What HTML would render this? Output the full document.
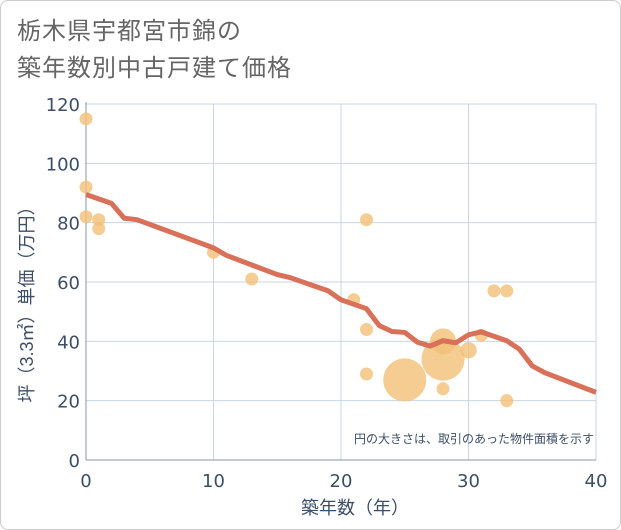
<!DOCTYPE html>
<html><head><meta charset="utf-8"><style>
body{margin:0;background:#fff;font-family:"Liberation Sans","Noto Sans CJK JP",sans-serif;}
#card{position:absolute;left:0;top:0;width:619px;height:528px;border:1px solid #ccc;border-radius:8px;}
#title{position:absolute;left:17px;top:13px;font-size:24px;letter-spacing:1px;line-height:37px;color:#666;}
</style></head><body>
<div id="card"></div>
<div id="title">栃木県宇都宮市錦の<br>築年数別中古戸建て価格</div>
<svg id="chart" width="621" height="530" style="position:absolute;left:0;top:0" font-family="Liberation Sans, Noto Sans CJK JP, sans-serif"></svg>
<script>
const xTicks=[0,10,20,30,40];
const yTicks=[0,20,40,60,80,100,120];
const lineYears=[0,2,3,4,10,11,15,16,19,20,22,23,24,25,26,27,28,29,30,31,33,34,35,36,40];
const lineValues=[89.5,86.5,81.5,81,71.5,69,62.5,61.5,57,54,51,45.3,43.3,43,39.7,38.4,40.2,39.5,42.2,43.2,40.2,37.3,31.7,29.4,22.8];
const bubbleYears=[0,0,0,1,1,10,13,22,21,22,22,25,28,28,28,30,31,32,33,33];
const bubbleValues=[115,92,82,81,78,70,61,81,54,44,29,27,40,34,24,37,42,57,57,20];
const bubbleSizes=[1,1,1,1,1,1,1,1,1,1,1,11,4,11,1,1.6,1,1,1,1];
const X0=86,X1=596,Y0=460,Y1=104;
const xs=v=>X0+(v-0)/40*(X1-X0);
const ys=v=>Y0-v/120*(Y0-Y1);
const svg=document.getElementById('chart');
const NS='http://www.w3.org/2000/svg';
function mk(t,a){const e=document.createElementNS(NS,t);for(const k in a)e.setAttribute(k,a[k]);svg.appendChild(e);return e;}
yTicks.forEach(v=>{
 const g=mk('line',{x1:X0,x2:X1,y1:ys(v),y2:ys(v),stroke:'#c8d6e5','stroke-width':1});
 
 
 const t=mk('text',{x:X0-6,y:ys(v)+7,'text-anchor':'end','font-size':18,fill:'#3d4f66','font-family':'DejaVu Sans, sans-serif'});
 t.textContent=v;
 
 
});
xTicks.forEach(v=>{
 const g=mk('line',{x1:xs(v),x2:xs(v),y1:Y1,y2:Y0,stroke:'#c8d6e5','stroke-width':1});
 
 
 const t=mk('text',{x:xs(v),y:Y0+27,'text-anchor':'middle','font-size':18,fill:'#3d4f66','font-family':'DejaVu Sans, sans-serif'});
 t.textContent=v;
 
 
});
const ax=mk('line',{x1:X0,x2:X0,y1:Y1-2,y2:Y0,stroke:'#8a96a3','stroke-width':1});


const ax2=mk('line',{x1:X0,x2:X1,y1:Y0,y2:Y0,stroke:'#8a96a3','stroke-width':1});


bubbleYears.forEach((yr,i)=>{
 const r=6.5*Math.sqrt(bubbleSizes[i]);
 const c=mk('circle',{cx:xs(yr),cy:ys(bubbleValues[i]),r:r,fill:'#f3c078','fill-opacity':0.8});
 
 
});
const pts=lineYears.map((y,i)=>xs(y)+','+ys(lineValues[i])).join(' ');
const pl=mk('polyline',{points:pts,fill:'none',stroke:'#d8705a','stroke-width':5,'stroke-linejoin':'round'});


const note=mk('text',{x:594,y:443,'text-anchor':'end','font-size':12,fill:'#3d4f66'});
note.textContent='円の大きさは、取引のあった物件面積を示す';


const xt=mk('text',{x:355,y:514,'text-anchor':'middle','font-size':18,fill:'#3d4f66'});
xt.textContent='築年数（年）';


const yt=mk('text',{x:0,y:0,'text-anchor':'middle','font-size':18,fill:'#3d4f66',transform:'translate(33,300) rotate(-90)'});
yt.textContent='坪（3.3㎡）単価（万円）';


</script>
</body></html>
